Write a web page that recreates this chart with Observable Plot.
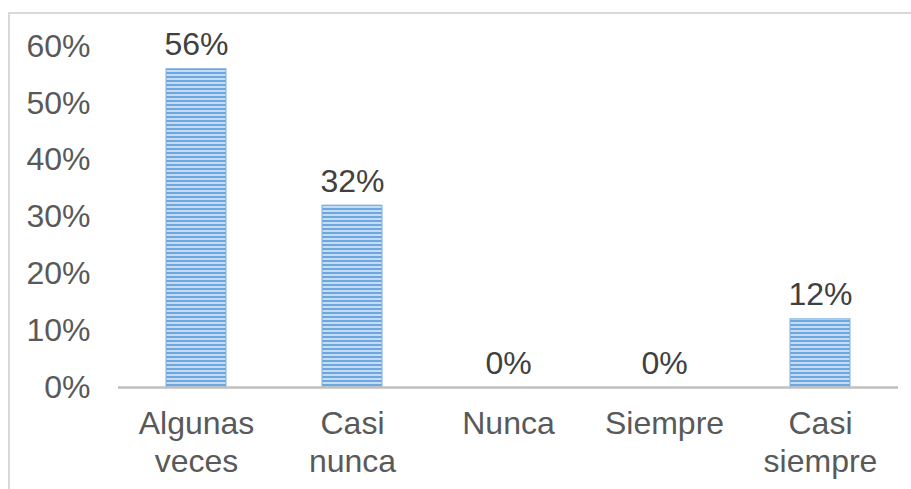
<!DOCTYPE html>
<html>
<head>
<meta charset="utf-8">
<script src="https://cdn.jsdelivr.net/npm/d3@7"></script>
<script src="https://cdn.jsdelivr.net/npm/@observablehq/plot@0.6"></script>
<style>
  html, body { margin: 0; padding: 0; background: #fff; overflow: hidden; }
  #wrap { position: relative; width: 911px; height: 489px; }
  #frame { position: absolute; left: 8px; top: 12px; width: 940px; height: 520px; border: 2px solid #d9d9d9; box-sizing: border-box; pointer-events: none; }
  #chart { position: absolute; left: 0; top: 0; }
  svg { font-family: "Liberation Sans", Arial, sans-serif; }
</style>
</head>
<body>
<div id="wrap"><div id="frame"></div><div id="chart"></div></div>
<script>
const categories = ["Algunas veces", "Casi nunca", "Nunca", "Siempre", "Casi siempre"];
const tickLabels = ["Algunas\nveces", "Casi\nnunca", "Nunca", "Siempre", "Casi\nsiempre"];
const values = [0.56, 0.32, 0, 0, 0.12];
const yTicks = [0, 0.1, 0.2, 0.3, 0.4, 0.5, 0.6];

const data = categories.map((c, i) => ({category: c, value: values[i]}));
const pct = d3.format(".0%");

const chart = Plot.plot({
  width: 911,
  height: 489,
  marginLeft: 118,
  marginRight: 13,
  marginTop: 46,
  marginBottom: 102,
  style: {fontSize: "32px", fontFamily: "'Liberation Sans', Arial, sans-serif", background: "transparent", overflow: "visible"},
  x: {domain: categories, paddingInner: 0.615, paddingOuter: 0.3075, label: null},
  y: {domain: [0, 0.6], label: null},
  marks: [
    Plot.barY(data, {x: "category", y: "value", fill: "url(#stripes)", stroke: "#7eb0e2", strokeWidth: 1}),
    Plot.ruleY([0], {stroke: "#bfbfbf", strokeWidth: 2.5}),
    Plot.text(data, {x: "category", y: "value", text: d => pct(d.value), lineAnchor: "bottom", dy: -14, fill: "#404040", fontSize: 32}),
    Plot.axisY({ticks: yTicks, tickFormat: pct, tickSize: 0, tickPadding: 28, fill: "#595959", fontSize: 32, label: null}),
    Plot.axisX({tickSize: 0, tickPadding: 20, tickFormat: (d) => tickLabels[categories.indexOf(d)], fill: "#595959", fontSize: 32, lineHeight: 1.18, label: null})
  ]
});

const ns = "http://www.w3.org/2000/svg";
const defs = document.createElementNS(ns, "defs");
const pat = document.createElementNS(ns, "pattern");
pat.setAttribute("id", "stripes");
pat.setAttribute("patternUnits", "userSpaceOnUse");
pat.setAttribute("width", "8");
pat.setAttribute("height", "4");
const r1 = document.createElementNS(ns, "rect");
r1.setAttribute("width", "8"); r1.setAttribute("height", "4"); r1.setAttribute("fill", "#c3dbf3");
const r2 = document.createElementNS(ns, "rect");
r2.setAttribute("width", "8"); r2.setAttribute("height", "2"); r2.setAttribute("fill", "#6ea6df");
pat.appendChild(r1); pat.appendChild(r2);
defs.appendChild(pat);
chart.insertBefore(defs, chart.firstChild);

document.getElementById("chart").appendChild(chart);
</script>
</body>
</html>
